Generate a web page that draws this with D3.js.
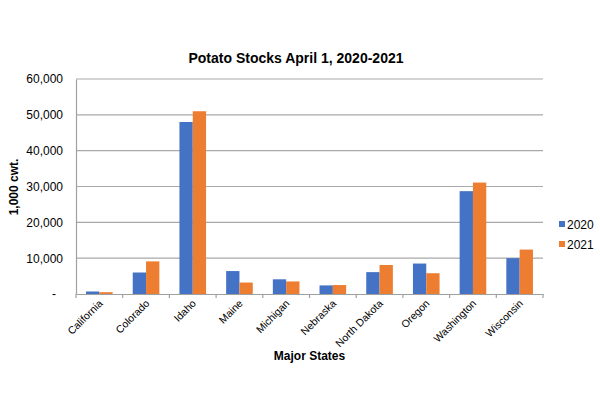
<!DOCTYPE html>
<html>
<head>
<meta charset="utf-8">
<script src="https://cdn.jsdelivr.net/npm/d3@7"></script>
<style>
html,body{margin:0;padding:0;background:#fff;}
svg{display:block;font-family:"Liberation Sans",Arial,sans-serif;}
</style>
</head>
<body>
<svg id="chart" width="600" height="399"></svg>
<script>
const states = ["California","Colorado","Idaho","Maine","Michigan","Nebraska","North Dakota","Oregon","Washington","Wisconsin"];
const years = ["2020","2021"];
const stocks2020 = [700, 6000, 48000, 6400, 4100, 2400, 6100, 8500, 28700, 10000];
const stocks2021 = [500, 9100, 51000, 3200, 3500, 2500, 8100, 5800, 31100, 12400];
const yTicks = [0, 10000, 20000, 30000, 40000, 50000, 60000];
const yTickLabels = ["-", "10,000", "20,000", "30,000", "40,000", "50,000", "60,000"];
const colors = ["#4472C4", "#ED7D31"];
const title = "Potato Stocks April 1, 2020-2021";
const xTitle = "Major States";
const yTitle = "1,000 cwt.";

const svg = d3.select("#chart");
const m = {left: 76, right: 543, top: 79, bottom: 294};

const x = d3.scaleBand().domain(states).range([m.left, m.right]).paddingInner(0).paddingOuter(0);
const xi = d3.scaleBand().domain(years).range([x.bandwidth()*0.215, x.bandwidth()*0.785]).padding(0);
const y = d3.scaleLinear().domain([0, 60000]).range([m.bottom, m.top]);

// gridlines
svg.append("g").selectAll("line").data(yTicks.slice(1)).join("line")
  .attr("x1", m.left).attr("x2", m.right)
  .attr("y1", d => y(d)).attr("y2", d => y(d))
  .attr("stroke", "#a9a9a9").attr("stroke-width", 1.2);

// y axis
const yAxis = d3.axisLeft(y).tickValues(yTicks).tickSize(0).tickPadding(13)
  .tickFormat((d, i) => yTickLabels[i]);
const gy = svg.append("g").attr("transform", `translate(${m.left},0)`).call(yAxis);
gy.select(".domain").attr("stroke", "#a0a0a0").attr("stroke-width", 1.2);
gy.selectAll("text").attr("font-size", 12).attr("fill", "#000")
  .attr("font-family", "Liberation Sans, Arial, sans-serif")
  .attr("dx", (d, i) => i === 0 ? -7 : 0);

// bars
const data = states.map((s, i) => ({state: s, values: [stocks2020[i], stocks2021[i]]}));
const groups = svg.append("g").selectAll("g").data(data).join("g")
  .attr("transform", d => `translate(${x(d.state)},0)`);
groups.selectAll("rect").data(d => d.values.map((v, j) => ({year: years[j], v, j}))).join("rect")
  .attr("x", d => xi(d.year)).attr("width", xi.bandwidth())
  .attr("y", d => y(d.v)).attr("height", d => y(0) - y(d.v))
  .attr("fill", d => colors[d.j]);

// x axis
const xAxis = d3.axisBottom(x).tickSize(0).tickFormat(d => d);
const gx = svg.append("g").attr("transform", `translate(0,${m.bottom})`).call(xAxis);
gx.select(".domain").attr("stroke", "#a0a0a0").attr("stroke-width", 1.2);
gx.selectAll("text").attr("font-size", 10.5).attr("fill", "#000")
  .attr("font-family", "Liberation Sans, Arial, sans-serif")
  .attr("text-anchor", "end")
  .attr("dy", 0).attr("y", 0)
  .attr("transform", "translate(4,10) rotate(-45)");
// boundary ticks
svg.append("g").selectAll("line").data(states.map(s => x(s)).concat([x(states[states.length-1]) + x.bandwidth()])).join("line")
  .attr("x1", d => d).attr("x2", d => d)
  .attr("y1", m.bottom).attr("y2", m.bottom + 4)
  .attr("stroke", "#a0a0a0").attr("stroke-width", 1.2);

// titles
svg.append("text").attr("x", 296).attr("y", 63).attr("text-anchor", "middle")
  .attr("font-size", 14).attr("font-weight", "bold").text(title);
svg.append("text").attr("x", (m.left + m.right)/2).attr("y", 360).attr("text-anchor", "middle")
  .attr("font-size", 12).attr("font-weight", "bold").text(xTitle);
svg.append("text").attr("transform", `translate(18,187) rotate(-90)`).attr("text-anchor", "middle")
  .attr("font-size", 12).attr("font-weight", "bold").text(yTitle);

// legend
const lg = svg.append("g").selectAll("g").data(years).join("g")
  .attr("transform", (d, i) => `translate(559,${224 + i*20})`);
lg.append("rect").attr("x", 0).attr("y", -3).attr("width", 6).attr("height", 6)
  .attr("fill", (d, i) => colors[i]);
lg.append("text").attr("x", 8).attr("y", 4.5).attr("font-size", 12).text(d => d);
</script>
</body>
</html>
